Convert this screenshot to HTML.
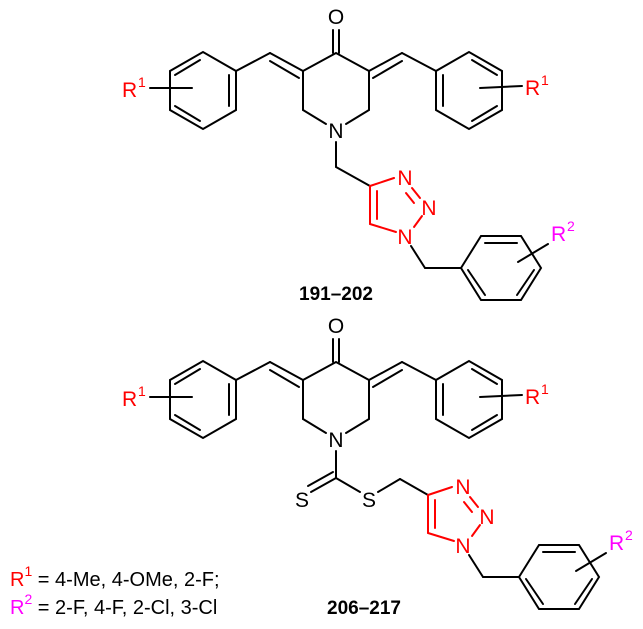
<!DOCTYPE html>
<html><head><meta charset="utf-8"><style>
html,body{margin:0;padding:0;background:#fff;width:643px;height:629px;overflow:hidden}
svg{display:block}
text{font-family:"Liberation Sans",Arial,sans-serif}
</style></head><body>
<svg width="643" height="629" viewBox="0 0 643 629" xmlns="http://www.w3.org/2000/svg">
<defs>
<g id="core">
  <g stroke="#000" stroke-width="2" fill="none" stroke-linecap="round">
    <line x1="333" y1="30" x2="333" y2="53"/><line x1="339" y1="30" x2="339" y2="53"/>
    <polyline points="303,71 336,53 369,71"/>
    <line x1="303" y1="71" x2="303" y2="110"/><line x1="303" y1="110" x2="326" y2="124"/>
    <line x1="369" y1="71" x2="369" y2="110"/><line x1="369" y1="110" x2="346" y2="124"/>
    <line x1="303" y1="71" x2="270" y2="53"/><line x1="299" y1="78" x2="270" y2="61"/>
    <line x1="270" y1="53" x2="236" y2="71"/>
    <line x1="369" y1="71" x2="402" y2="53"/><line x1="373" y1="78" x2="402" y2="61"/>
    <line x1="402" y1="53" x2="436" y2="71"/>
    <polygon points="236,71 236,110 203,129 170,110 170,71 203,52"/>
    <line x1="229" y1="75" x2="229" y2="106"/>
    <line x1="200" y1="121" x2="175" y2="106"/>
    <line x1="175" y1="75" x2="200" y2="60"/>
    <line x1="150" y1="88" x2="192" y2="88"/>
    <polygon points="436,71 436,110 469,129 502,110 502,71 469,52"/>
    <line x1="443" y1="75" x2="443" y2="106"/>
    <line x1="472" y1="121" x2="497" y2="106"/>
    <line x1="497" y1="75" x2="472" y2="60"/>
    <line x1="480" y1="88" x2="522" y2="86"/>
  </g>
  <g font-size="21">
    <text x="336" y="24" text-anchor="middle">O</text>
    <text x="336" y="138" text-anchor="middle">N</text>
  </g>
  <g fill="#f00">
    <text x="122" y="97" font-size="21">R</text><text x="138" y="87" font-size="14">1</text>
    <text x="525" y="95" font-size="21">R</text><text x="541" y="85" font-size="14">1</text>
  </g>
</g>
<g id="tri">
  <g stroke="#f00" stroke-width="2" fill="none" stroke-linecap="round">
    <line x1="370" y1="186" x2="394" y2="178"/>
    <line x1="412" y1="188" x2="420" y2="198"/>
    <line x1="406" y1="193" x2="414" y2="203"/>
    <line x1="422" y1="216" x2="414" y2="227"/>
    <line x1="396" y1="232" x2="370" y2="224"/>
    <line x1="370" y1="224" x2="370" y2="186"/>
    <line x1="377" y1="219" x2="377" y2="191"/>
  </g>
  <g fill="#f00" font-size="21">
    <text x="405" y="185" text-anchor="middle">N</text>
    <text x="429" y="215" text-anchor="middle">N</text>
    <text x="405" y="244" text-anchor="middle">N</text>
  </g>
  <g stroke="#000" stroke-width="2" fill="none" stroke-linecap="round">
    <line x1="411" y1="246" x2="425" y2="268"/>
    <line x1="425" y1="268" x2="461" y2="268"/>
    <polygon points="461,268 481,236 521,236 541,268 521,300 481,300"/>
    <line x1="485" y1="243" x2="517" y2="243"/>
    <line x1="534" y1="270" x2="517" y2="295"/>
    <line x1="468" y1="270" x2="485" y2="295"/>
    <line x1="518" y1="262" x2="548" y2="244"/>
  </g>
  <g fill="#f0f"><text x="551" y="241" font-size="21">R</text><text x="567" y="231" font-size="14">2</text></g>
</g>
</defs>

<use href="#core"/>
<g stroke="#000" stroke-width="2" fill="none" stroke-linecap="round">
  <line x1="336" y1="142" x2="336" y2="167"/>
  <line x1="336" y1="167" x2="370" y2="186"/>
</g>
<use href="#tri"/>
<text x="336" y="300" text-anchor="middle" font-size="19" font-weight="bold">191–202</text>

<use href="#core" transform="translate(0,309)"/>
<g stroke="#000" stroke-width="2" fill="none" stroke-linecap="round">
  <line x1="336" y1="451" x2="336" y2="478"/>
  <line x1="336" y1="478" x2="311" y2="492"/>
  <line x1="333" y1="472" x2="308" y2="486"/>
  <line x1="336" y1="478" x2="360" y2="492"/>
  <line x1="378" y1="492" x2="400" y2="479"/>
  <line x1="400" y1="479" x2="428" y2="495"/>
</g>
<g font-size="21">
  <text x="302" y="507" text-anchor="middle">S</text>
  <text x="369" y="507" text-anchor="middle">S</text>
</g>
<use href="#tri" transform="translate(58,309)"/>

<g font-size="20">
  <text x="10" y="586"><tspan fill="#f00">R</tspan><tspan fill="#f00" font-size="14" dy="-10">1</tspan><tspan dy="10"> = 4-Me, 4-OMe, 2-F;</tspan></text>
  <text x="10" y="614"><tspan fill="#f0f">R</tspan><tspan fill="#f0f" font-size="14" dy="-10">2</tspan><tspan dy="10"> = 2-F, 4-F, 2-Cl, 3-Cl</tspan></text>
</g>
<text x="364" y="614" text-anchor="middle" font-size="19" font-weight="bold">206–217</text>
</svg>
</body></html>
